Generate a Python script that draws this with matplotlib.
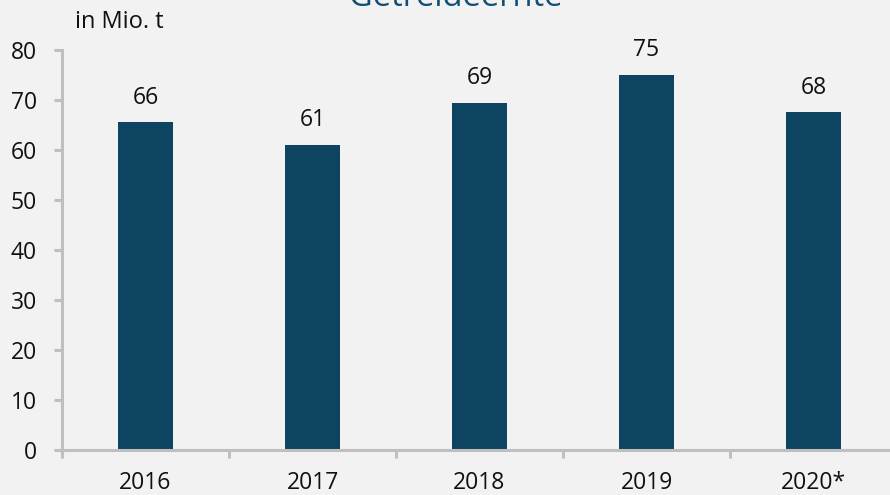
import matplotlib.pyplot as plt

plt.rcParams['font.family'] = ['Open Sans', 'DejaVu Sans']

years = ['2016', '2017', '2018', '2019', '2020*']
harvest = [65.6, 61.0, 69.4, 75.0, 67.6]
labels = ['66', '61', '69', '75', '68']

bg = '#f2f2f2'
bar_color = '#0d4461'
axis_color = '#bfbfbf'

fig = plt.figure(figsize=(8.9, 4.95), dpi=100, facecolor=bg)
ax = fig.add_axes([62 / 890, 45 / 495, 835 / 890, 400 / 495])
ax.set_facecolor(bg)

x = list(range(len(years)))
bars = ax.bar(x, harvest, width=0.33, color=bar_color, zorder=2)

for xi, v, lab in zip(x, harvest, labels):
    ax.annotate(lab, (xi, v), xytext=(0, 9), textcoords='offset points',
                ha='center', va='bottom', fontsize=16.5, color='#111111')

ax.set_xlim(-0.5, len(years) - 0.5)
ax.set_ylim(0, 80)
ax.set_yticks(range(0, 81, 10))
ax.set_xticks(x)
ax.set_xticklabels(years)
ax.set_xticks([i + 0.5 for i in range(-1, len(years))], minor=True)

for s in ['top', 'right']:
    ax.spines[s].set_visible(False)
for s in ['left', 'bottom']:
    ax.spines[s].set_color(axis_color)
    ax.spines[s].set_linewidth(2.2)

ax.tick_params(axis='y', length=6, width=2.2, color=axis_color, labelsize=16.5,
               pad=12, labelcolor='#111111')
ax.tick_params(axis='x', which='major', length=0, labelsize=16.5, pad=15,
               labelcolor='#111111')
ax.tick_params(axis='x', which='minor', length=6, width=2.2, color=axis_color)

fig.text(75 / 890, 1 - 22 / 495, 'in Mio. t', ha='left', va='center',
         fontsize=17, color='#111111')
fig.text(456 / 890, 1 - 6 / 495, 'Getreideernte', ha='center', va='baseline',
         fontsize=23.5, color='#134f72')

fig.savefig('out.png', dpi=100, facecolor=bg)
